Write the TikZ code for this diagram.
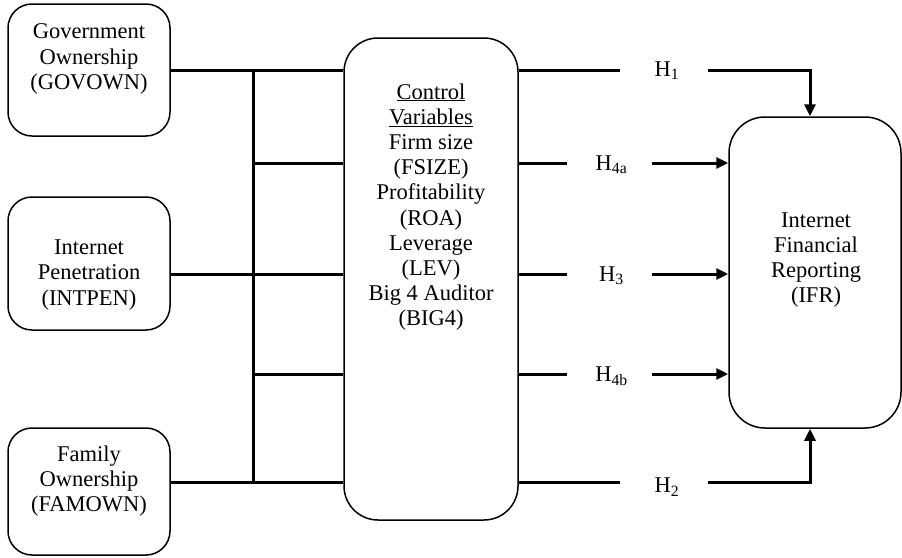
\documentclass[tikz,border=0pt]{standalone}
\usepackage{fontspec}
\setmainfont{Liberation Serif}
\usetikzlibrary{arrows.meta}
\tikzset{>=latex}
\tikzset{
  varbox/.style={draw, rounded corners=24pt, line width=1.5pt, inner sep=0pt},
  vartext/.style={align=center, font=\fontsize{22.5}{25.2}\selectfont},
  link/.style={line width=3pt},
  hyp/.style={link, -{Triangle[length=12pt,width=11pt]}},
  hlabel/.style={inner sep=0pt, font=\fontsize{22.5}{25}\selectfont}
}

\begin{document}
\begin{tikzpicture}[x=1pt, y=-1pt]
\useasboundingbox (0,0) rectangle (902,557);

% Independent variables (left)
\node[varbox, minimum width=162pt, minimum height=132pt] (gov) at (89,70) {};
\node[vartext] (govtxt) at (89,59) {Government\\Ownership\\(GOVOWN)};
\node[varbox, minimum width=162pt, minimum height=133pt] (intpen) at (89,263.5) {};
\node[vartext] (intpentxt) at (89,275) {Internet\\Penetration\\(INTPEN)};
\node[varbox, minimum width=162pt, minimum height=127pt] (fam) at (89,491.5) {};
\node[vartext] (famtxt) at (89,481) {Family\\Ownership\\(FAMOWN)};

% Control variables (middle)
\node[varbox, rounded corners=34pt, minimum width=174pt, minimum height=482pt] (ctrl) at (431,279) {};
\node[vartext] (ctrltxt) at (431,207) {\underline{Control}\\\underline{Variables}\\Firm size\\(FSIZE)\\Profitability\\(ROA)\\Leverage\\(LEV)\\Big 4 Auditor\\(BIG4)};

% Dependent variable (right)
\node[varbox, rounded corners=36pt, minimum width=172pt, minimum height=311pt] (ifr) at (815,272.5) {};
\node[vartext] (ifrtxt) at (816,260) {Internet\\Financial\\Reporting\\(IFR)};

% Bus on the left
\coordinate (b1) at (253,70);
\coordinate (b2) at (253,163);
\coordinate (b3) at (253,274);
\coordinate (b4) at (253,374);
\coordinate (b5) at (253,482);

\draw[link] (b1) -- (b5);
\draw[link] (gov.east |- b1) -- (ctrl.west |- b1);
\draw[link] (b2) -- (ctrl.west |- b2);
\draw[link] (intpen.east |- b3) -- (ctrl.west |- b3);
\draw[link] (b4) -- (ctrl.west |- b4);
\draw[link] (fam.east |- b5) -- (ctrl.west |- b5);

% Hypotheses (label box spans the gap in the line)
\node[hlabel, minimum width=88pt] (h1) at (664,71) {\hspace*{6pt}H\textsubscript{1}};
\node[hlabel, minimum width=85pt] (h4a) at (609.5,165) {\hspace*{4pt}H\textsubscript{4a}};
\node[hlabel, minimum width=85pt] (h3) at (609.5,276) {\hspace*{4pt}H\textsubscript{3}};
\node[hlabel, minimum width=85pt] (h4b) at (609.5,376) {\hspace*{4pt}H\textsubscript{4b}};
\node[hlabel, minimum width=88pt] (h2) at (664,487) {\hspace*{6pt}H\textsubscript{2}};

\draw[link] (ctrl.east |- b1) -- (h1.west |- b1);
\draw[hyp] (h1.east |- b1) -| ([xshift=-5pt]ifr.north);
\draw[link] (ctrl.east |- b2) -- (h4a.west |- b2);
\draw[hyp] (h4a.east |- b2) -- (ifr.west |- b2);
\draw[link] (ctrl.east |- b3) -- (h3.west |- b3);
\draw[hyp] (h3.east |- b3) -- (ifr.west |- b3);
\draw[link] (ctrl.east |- b4) -- (h4b.west |- b4);
\draw[hyp] (h4b.east |- b4) -- (ifr.west |- b4);
\draw[link] (ctrl.east |- b5) -- (h2.west |- b5);
\draw[hyp] (h2.east |- b5) -| ([xshift=-5pt]ifr.south);

\end{tikzpicture}
\end{document}
